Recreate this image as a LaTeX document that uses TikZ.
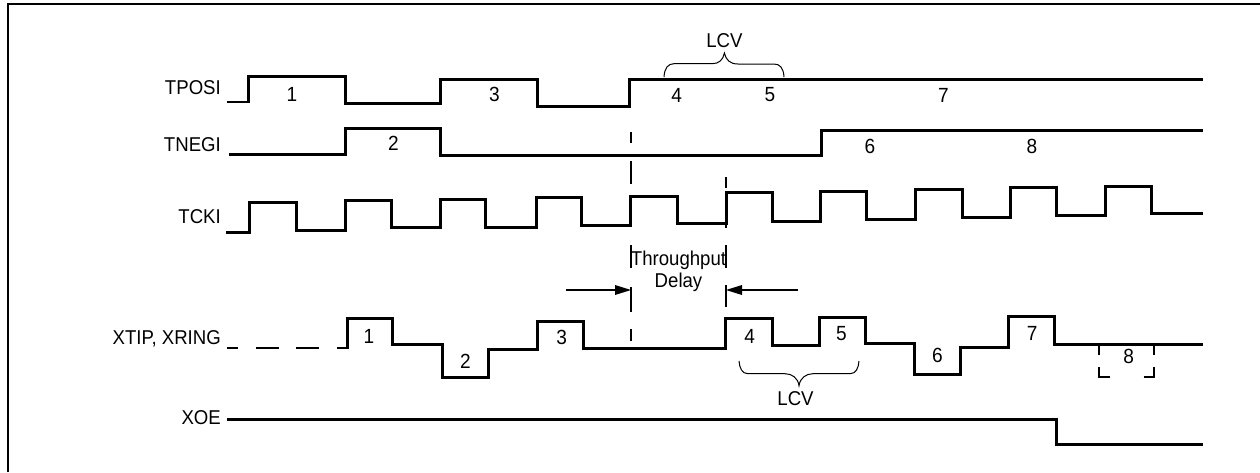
\documentclass[tikz,border=0pt]{standalone}
\usepackage{fontspec}
\setmainfont{Liberation Sans}[FakeStretch=0.93]
\begin{document}
\begin{tikzpicture}[x=1pt,y=-1pt,
  sig/.style={line width=3pt,line cap=butt,line join=miter},
  leadin/.style={line width=2.2pt},
  guide/.style={line width=1.5pt},
  thinline/.style={line width=1.3pt},
  brace/.style={line width=1pt},
  frameline/.style={line width=2pt},
  lbl/.style={inner sep=0pt,font=\fontsize{20}{22}\selectfont},
  num/.style={inner sep=0pt,font=\fontsize{20.5}{22}\selectfont},
  tip/.style={fill=black,draw=none}]
\useasboundingbox (0,0) rectangle (1260,472);
\fill[white] (0,0) rectangle (1260,472);
% frame
\coordinate (fa) at (7.7,472); \coordinate (fb) at (7.7,4); \coordinate (fc) at (1260,4);
\draw[frameline] (fa) -- (fb) -- (fc);
% labels
\node[lbl,anchor=east] (ltposi) at (221,87.7) {TPOSI};
\node[lbl,anchor=east] (ltnegi) at (221,145) {TNEGI};
\node[lbl,anchor=east] (ltcki) at (221,217) {TCKI};
\node[lbl,anchor=east] (lxtip) at (221,338.7) {XTIP, XRING};
\node[lbl,anchor=east] (lxoe) at (221,417.3) {XOE};
% signals
\draw[leadin] (227,101.7) -- (248.3,101.7);
\draw[sig] (248.3,102.5) -- (248.3,76.3) -- (345.5,76.3) -- (345.5,103.3) -- (440.3,103.3) -- (440.3,79.3) -- (537.6,79.3) -- (537.6,106.3) -- (629.5,106.3) -- (629.5,79.3) -- (1202.5,79.3);
\draw[sig] (229,154.7) -- (345.5,154.7) -- (345.5,128) -- (440,128) -- (440,155.3) -- (821,155.3) -- (821,130) -- (1202.5,130);
\draw[sig] (226,232) -- (249.5,232) -- (249.5,202.7) -- (296,202.7) -- (296,230) -- (345.5,230) -- (345.5,200) -- (391.7,200) -- (391.7,227.3) -- (440.3,227.3) -- (440.3,199) -- (485.7,199) -- (485.7,227.3) -- (536,227.3) -- (536,197) -- (581.8,197) -- (581.8,225) -- (630,225) -- (630,196) -- (677,196) -- (677,223.3) -- (726.4,223.3) -- (726.4,192.7) -- (772,192.7) -- (772,221) -- (820,221) -- (820,191) -- (866.6,191) -- (866.6,219.3) -- (915.7,219.3) -- (915.7,189) -- (962,189) -- (962,217.3) -- (1010.5,217.3) -- (1010.5,187.3) -- (1056.7,187.3) -- (1056.7,215.3) -- (1105.7,215.3) -- (1105.7,186) -- (1151.5,186) -- (1151.5,213.3) -- (1202.5,213.3);
\draw[sig] (347,349) -- (347,318) -- (392.5,318) -- (392.5,344.3) -- (442.7,344.3) -- (442.7,377.3) -- (488.5,377.3) -- (488.5,349) -- (537.6,349) -- (537.6,321.3) -- (583.8,321.3) -- (583.8,348.3) -- (725.6,348.3) -- (725.6,318) -- (772,318) -- (772,345.3) -- (819,345.3) -- (819,317) -- (865,317) -- (865,343.7) -- (914.5,343.7) -- (914.5,374.3) -- (960,374.3) -- (960,347.3) -- (1008.9,347.3) -- (1008.9,316.7) -- (1054,316.7) -- (1054,344) -- (1202.5,344);
\draw[sig] (227,419) -- (1056.3,419) -- (1056.3,444.3) -- (1202.5,444.3);
% XTIP dashed lead-in
\draw[leadin] (227,348) -- (238,348) (256,348) -- (279,348) (296,348) -- (319,348) (337,348) -- (346,348);
% pulse 8 corners
\draw[leadin] (1099,345) -- (1099,355) (1099,367) -- (1099,377) -- (1110,377) (1143.5,377) -- (1154,377) -- (1154,367) (1154,355) -- (1154,345);
% throughput guides
\draw[guide] (631,132) -- (631,143) (631,161) -- (631,184) (631,245) -- (631,268) (631,287) -- (631,312) (631,329) -- (631,341);
\draw[guide] (726,177) -- (726,188) (726,221) -- (726,228) (726,245) -- (726,268) (726,285) -- (726,307);
% arrows
\coordinate (al) at (566,290); \coordinate (ale) at (631,290);
\coordinate (ar) at (798,290); \coordinate (are) at (726,290);
\draw[thinline] (al) -- (617,290);
\fill[tip] (ale) -- (615,285) -- (615,295) -- cycle;
\draw[thinline] (ar) -- (741,290);
\fill[tip] (are) -- (742,285) -- (742,295) -- cycle;
\node[lbl,align=center] (delay) at (678.5,271) {Throughput\\Delay};
% braces
\draw[brace] (664,77) .. controls (664.5,68) and (668,63.7) .. (674,63.7) -- (712,63.7) .. controls (719,63.7) and (723,60) .. (724.4,53) .. controls (726,60) and (730,64) .. (738,64) -- (774,64) .. controls (780,64) and (783.5,68) .. (784,77);
\draw[brace] (739,361) .. controls (739.5,368) and (742,373.7) .. (748,373.7) -- (785,373.7) .. controls (792,373.7) and (798,378) .. (799,385.7) .. controls (800,378) and (806,373.7) .. (813,373.7) -- (850,373.7) .. controls (856,373.7) and (858.5,368) .. (859,361);
\node[lbl] (lcvt) at (724.4,40.7) {LCV};
\node[lbl] (lcvb) at (795.5,398.7) {LCV};
% numbers
\node[num] (t1) at (292,94) {1};
\node[num] (t3) at (494.5,94) {3};
\node[num] (t4) at (676.6,95) {4};
\node[num] (t5) at (770,95) {5};
\node[num] (t7) at (943.4,95) {7};
\node[num] (n2) at (393.3,143) {2};
\node[num] (n6) at (870,146) {6};
\node[num] (n8) at (1032,146) {8};
\node[num] (x1) at (368.8,336.7) {1};
\node[num] (x2) at (465.3,361.7) {2};
\node[num] (x3) at (561.7,337) {3};
\node[num] (x4) at (749.7,336) {4};
\node[num] (x5) at (841.3,334) {5};
\node[num] (x6) at (937.4,355.7) {6};
\node[num] (x7) at (1032.2,333.7) {7};
\node[num] (x8) at (1128.6,356.7) {8};
\end{tikzpicture}
\end{document}
